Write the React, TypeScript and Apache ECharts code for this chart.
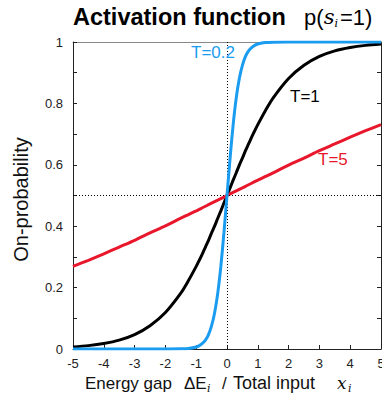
import React, { useEffect, useRef } from "react";
import * as echarts from "echarts";

const xs = [-5, -4.5, -4, -3.5, -3, -2.5, -2, -1.5, -1.25, -1, -0.9, -0.8, -0.7, -0.6, -0.5, -0.4, -0.3, -0.2, -0.1, 0,
  0.1, 0.2, 0.3, 0.4, 0.5, 0.6, 0.7, 0.8, 0.9, 1, 1.25, 1.5, 2, 2.5, 3, 3.5, 4, 4.5, 5];

const pT02 = [0.0, 0.0, 0.0, 0.0, 0.0, 0.0, 0.0001, 0.0006, 0.0019, 0.0067, 0.011, 0.018, 0.029, 0.047, 0.076, 0.119, 0.182, 0.269, 0.378, 0.5,
  0.622, 0.731, 0.818, 0.881, 0.924, 0.953, 0.971, 0.982, 0.989, 0.9933, 0.9981, 0.9994, 0.9999, 1.0, 1.0, 1.0, 1.0, 1.0, 1.0];

const pT1 = [0.0067, 0.011, 0.018, 0.029, 0.047, 0.076, 0.119, 0.182, 0.223, 0.269, 0.289, 0.31, 0.332, 0.354, 0.378, 0.401, 0.426, 0.45, 0.475, 0.5,
  0.525, 0.55, 0.574, 0.599, 0.622, 0.646, 0.668, 0.69, 0.711, 0.731, 0.777, 0.818, 0.881, 0.924, 0.953, 0.971, 0.982, 0.989, 0.9933];

const pT5 = [0.269, 0.289, 0.31, 0.332, 0.354, 0.378, 0.401, 0.426, 0.438, 0.45, 0.455, 0.46, 0.465, 0.47, 0.475, 0.48, 0.485, 0.49, 0.495, 0.5,
  0.505, 0.51, 0.515, 0.52, 0.525, 0.53, 0.535, 0.54, 0.545, 0.55, 0.562, 0.574, 0.599, 0.622, 0.646, 0.668, 0.69, 0.711, 0.731];

const seriesNames = ["T=0.2", "T=1", "T=5"];
const seriesColors = ["#1a9df0", "#000000", "#e8172b"];

const FONT = "Liberation Sans";
const SERIF = "DejaVu Serif";

export default function App() {
  const ref = useRef<HTMLDivElement>(null);
  useEffect(() => {
    const chart = echarts.init(ref.current!, null, { renderer: "svg" });
    const datas = [pT02, pT1, pT5];
    const series: any[] = datas.map((d, k) => ({
      type: "line",
      name: seriesNames[k],
      data: xs.map((x, i) => [x, d[i]]),
      smooth: 0.3,
      showSymbol: false,
      lineStyle: { color: seriesColors[k], width: 3 },
      z: k === 0 ? 5 : 3,
    }));
    series.push({
      type: "line",
      data: [],
      markLine: {
        silent: true,
        symbol: "none",
        label: { show: false },
        lineStyle: { color: "#000", width: 1, type: [1, 2] },
        data: [{ xAxis: 0 }, { yAxis: 0.5 }],
      },
      z: 1,
    });
    chart.setOption({
      animation: false,
      graphic: [
        {
          type: "text",
          left: 73,
          top: 5,
          style: {
            text: "{a|Activation function}{b|   p(}{c|s}{d|i}{b|=1)}",
            rich: {
              a: { fontFamily: FONT, fontWeight: "bold", fontSize: 23.5, fill: "#000" },
              b: { fontFamily: FONT, fontWeight: "normal", fontSize: 22, fill: "#000" },
              c: { fontFamily: SERIF, fontWeight: "normal", fontStyle: "italic", fontSize: 21, fill: "#000" },
              d: { fontFamily: SERIF, fontWeight: "normal", fontStyle: "italic", fontSize: 11, fill: "#000", padding: [12, 2, 0, 0] },
            },
          },
        },
        {
          type: "text",
          left: 85,
          top: 374,
          style: {
            text: "{e|Energy gap}{d|ΔE}{s|i}{n|/}{t|Total input}{v|x}{s|i}",
            rich: {
              e: { fontFamily: FONT, fontSize: 17, fill: "#111", width: 99 },
              n: { fontFamily: FONT, fontSize: 17, fill: "#111", width: 11 },
              t: { fontFamily: FONT, fontSize: 18, fill: "#111", width: 104 },
              d: { fontFamily: FONT, fontSize: 17, fill: "#111", width: 23 },
              v: { fontFamily: SERIF, fontStyle: "italic", fontSize: 17, fill: "#111", width: 11 },
              s: { fontFamily: SERIF, fontStyle: "italic", fontSize: 11, fill: "#111", width: 15, padding: [10, 0, 0, 0] },
            },
          },
        },
        { type: "text", left: 191, top: 44, z: 10, style: { text: "T=0.2", fontFamily: FONT, fontSize: 17, fill: seriesColors[0] } },
        { type: "text", left: 290, top: 88, z: 10, style: { text: "T=1", fontFamily: FONT, fontSize: 17, fill: seriesColors[1] } },
        { type: "text", left: 318, top: 151, z: 10, style: { text: "T=5", fontFamily: FONT, fontSize: 17, fill: seriesColors[2] } },
      ],
      grid: { left: 73, right: 1, top: 42, bottom: 58, containLabel: false, outerBoundsMode: "none" },
      xAxis: [
        {
          type: "value",
          min: -5,
          max: 5,
          interval: 1,
          axisLine: { show: true, onZero: false, lineStyle: { color: "#222", width: 1 } },
          axisTick: { show: true, inside: true, length: 4, lineStyle: { color: "#222" } },
          splitLine: { show: false },
          axisLabel: { fontFamily: FONT, fontSize: 13, color: "#222", margin: 8 },
        },
        {
          type: "value",
          position: "top",
          min: -5,
          max: 5,
          interval: 1,
          axisLine: { show: true, onZero: false, lineStyle: { color: "#888", width: 1 } },
          axisTick: { show: false },
          axisLabel: { show: false },
          splitLine: { show: false },
        },
      ],
      yAxis: [
        {
          type: "value",
          min: 0,
          max: 1,
          interval: 0.1,
          axisLine: { show: true, onZero: false, lineStyle: { color: "#222", width: 1 } },
          axisTick: { show: true, inside: true, length: 4, lineStyle: { color: "#222" } },
          splitLine: { show: false },
          axisLabel: {
            fontFamily: FONT,
            fontSize: 13,
            color: "#222",
            margin: 10,
            formatter: (v: number) => (Math.round(v * 10) % 2 === 0 ? String(Math.round(v * 10) / 10) : ""),
          },
          name: "On-probability",
          nameLocation: "middle",
          nameGap: 42,
          nameTextStyle: { fontFamily: FONT, fontSize: 20, color: "#111", padding: [0, 8, 0, 0] },
        },
        {
          type: "value",
          position: "right",
          min: 0,
          max: 1,
          interval: 0.1,
          axisLine: { show: true, onZero: false, lineStyle: { color: "#222", width: 1 } },
          axisTick: { show: true, inside: true, length: 4, lineStyle: { color: "#222" } },
          axisLabel: { show: false },
          splitLine: { show: false },
        },
      ],
      series,
    });
    return () => chart.dispose();
  }, []);
  return <div ref={ref} style={{ width: 382, height: 407, position: "absolute", left: 0, top: 0 }} />;
}
